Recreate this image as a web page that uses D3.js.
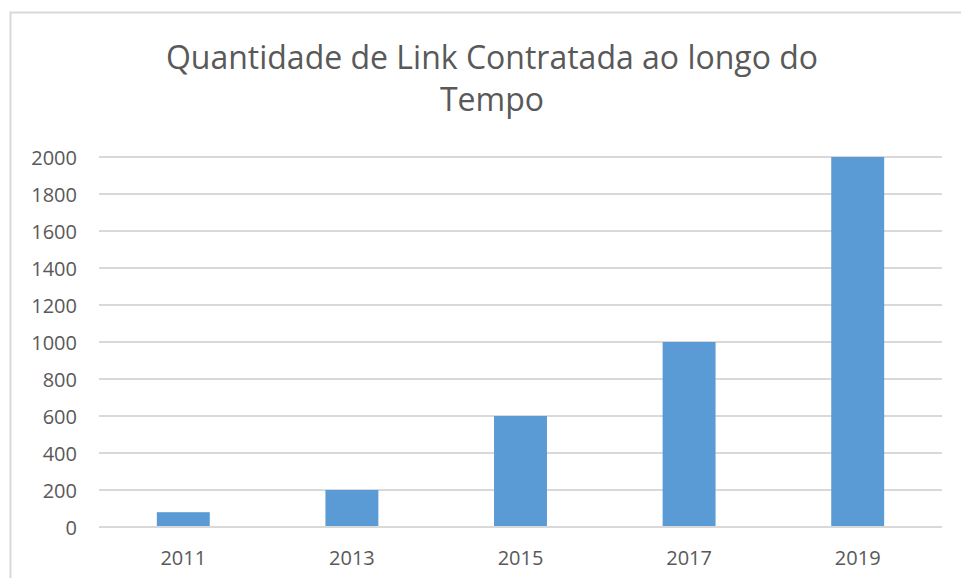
<!DOCTYPE html>
<html>
<head>
<meta charset="utf-8">
<script src="https://cdn.jsdelivr.net/npm/d3@7"></script>
<style>
  html, body { margin: 0; padding: 0; background: #ffffff; }
  svg { display: block; }
</style>
</head>
<body>
<svg id="chart" width="961" height="578"></svg>
<script>
const years = ["2011", "2013", "2015", "2017", "2019"];
const values = [80, 200, 600, 1000, 2000];
const yTicks = [0, 200, 400, 600, 800, 1000, 1200, 1400, 1600, 1800, 2000];
const titleLines = ["Quantidade de Link Contratada ao longo do", "Tempo"];

const svg = d3.select("#chart");
const font = "'Open Sans', Lato, sans-serif";
const textColor = "#595959";
const gridColor = "#d9d9d9";

// chart border (extends past right/bottom edges)
svg.append("rect")
  .attr("x", 10.5).attr("y", 12.5)
  .attr("width", 960).attr("height", 580)
  .attr("fill", "none").attr("stroke", gridColor).attr("stroke-width", 2);

const plot = { left: 99, right: 942, top: 157, bottom: 527 };

const x = d3.scaleBand().domain(years).range([plot.left, plot.right]).padding(0);
const y = d3.scaleLinear().domain([0, 2000]).range([plot.bottom, plot.top]);
const barW = x.bandwidth() * 0.314;

// title
const title = svg.append("text")
  .attr("text-anchor", "middle")
  .attr("font-family", font)
  .attr("font-size", 32)
  .attr("fill", textColor);
titleLines.forEach((t, i) => {
  title.append("tspan").attr("x", 492).attr("y", 69 + i * 42).text(t);
});

// gridlines
svg.append("g")
  .selectAll("line")
  .data(yTicks)
  .join("line")
  .attr("x1", plot.left).attr("x2", plot.right)
  .attr("y1", d => y(d)).attr("y2", d => y(d))
  .attr("stroke", gridColor).attr("stroke-width", 2);

// y axis labels
const yAxis = d3.axisLeft(y).tickValues(yTicks).tickSize(0).tickPadding(0).tickFormat(d3.format("d"));
const gy = svg.append("g").attr("transform", `translate(77,0)`).call(yAxis);
gy.select(".domain").remove();
gy.selectAll("text")
  .attr("font-family", font).attr("font-size", 20)
  .attr("fill", textColor).attr("dy", "0.35em").attr("x", 0);

// bars
svg.append("g")
  .selectAll("rect")
  .data(years)
  .join("rect")
  .attr("x", d => x(d) + x.bandwidth() / 2 - barW / 2)
  .attr("width", barW)
  .attr("y", (d, i) => y(values[i]))
  .attr("height", (d, i) => y(0) - y(values[i]))
  .attr("fill", "#5b9bd5");

// baseline on top of bars
svg.append("line")
  .attr("x1", plot.left).attr("x2", plot.right)
  .attr("y1", y(0)).attr("y2", y(0))
  .attr("stroke", gridColor).attr("stroke-width", 2);

// x axis labels
const xAxis = d3.axisBottom(x).tickSize(0).tickPadding(0);
const gx = svg.append("g").attr("transform", `translate(0,565)`).call(xAxis);
gx.select(".domain").remove();
gx.selectAll("text")
  .attr("font-family", font).attr("font-size", 20)
  .attr("fill", textColor).attr("dy", 0).attr("y", 0);
</script>
</body>
</html>
